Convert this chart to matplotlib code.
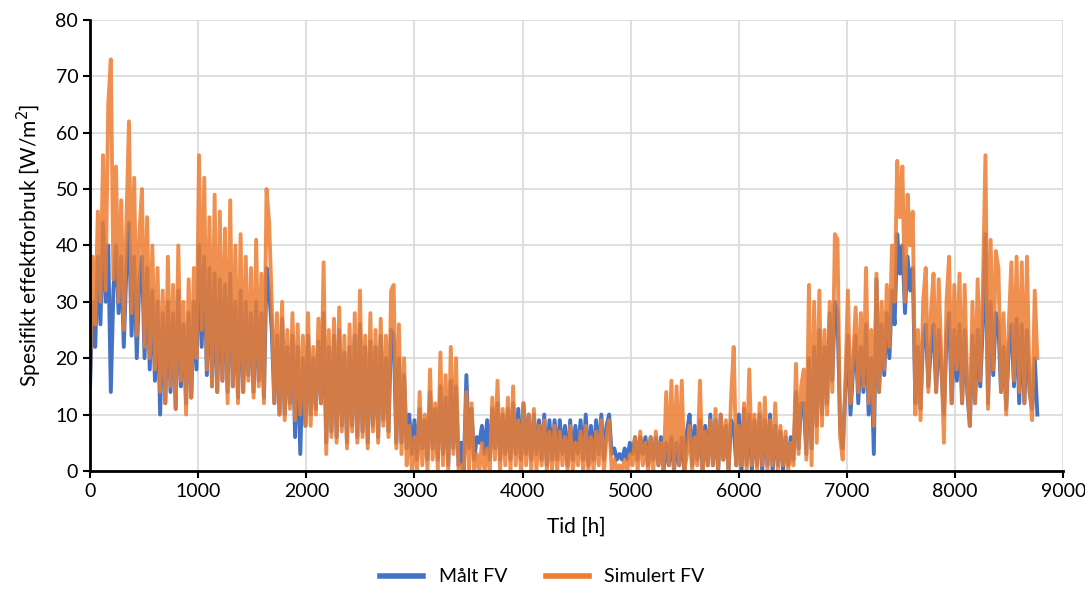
import numpy as np
import matplotlib.pyplot as plt

# values, one point per day (24 h), alternating peaks/troughs
simulert = [
    17, 38, 26, 46, 30, 56, 32, 65, 73, 34,
    54, 30, 48, 25, 44, 62, 28, 52, 24, 42,
    50, 22, 45, 20, 40, 18, 36, 14, 32, 12,
    38, 15, 33, 11, 40, 16, 30, 10, 34, 13,
    36, 20, 56, 25, 52, 18, 45, 15, 49, 14,
    46, 16, 43, 12, 48, 15, 40, 12, 42, 14,
    38, 16, 36, 13, 41, 15, 35, 12, 50, 44,
    30, 12, 28, 10, 30, 9, 25, 11, 28, 9,
    26, 10, 24, 8, 28, 8, 22, 10, 27, 12,
    37, 3, 25, 6, 27, 5, 29, 7, 24, 4,
    26, 7, 28, 5, 32, 6, 24, 4, 28, 7,
    25, 5, 27, 8, 24, 6, 32, 33, 4, 26,
    3, 20, 1, 8, 0, 6, 0, 14, 1, 10,
    0, 18, 2, 12, 0, 21, 1, 17, 0, 22,
    3, 20, 0, 1, 0, 14, 0, 12, 0, 3,
    0, 5, 0, 4, 0, 13, 2, 16, 0, 11,
    1, 13, 0, 15, 1, 9, 0, 12, 1, 10,
    0, 11, 0, 8, 1, 9, 0, 7, 0, 8,
    0, 7, 1, 6, 0, 8, 0, 5, 1, 7,
    0, 8, 0, 6, 0, 7, 1, 9, 0, 6,
    9, 0, 2, 0, 1, 0, 2, 0, 3, 1,
    6, 0, 7, 1, 5, 0, 6, 0, 7, 1,
    5, 0, 14, 1, 16, 0, 15, 1, 16, 0,
    3, 8, 0, 6, 1, 16, 0, 7, 1, 9,
    1, 11, 0, 10, 2, 9, 0, 13, 22, 1,
    8, 1, 12, 0, 18, 1, 10, 0, 12, 1,
    13, 0, 9, 1, 12, 0, 8, 1, 7, 0,
    5, 1, 19, 3, 15, 18, 2, 33, 1, 30,
    5, 32, 8, 25, 10, 30, 14, 42, 41, 6,
    2, 15, 32, 12, 20, 29, 14, 28, 15, 36,
    12, 25, 8, 35, 14, 30, 18, 33, 22, 40,
    30, 55, 45, 54, 30, 49, 40, 46, 10, 25,
    9, 30, 36, 14, 28, 35, 14, 34, 20, 5,
    30, 38, 12, 33, 18, 35, 12, 33, 15, 8,
    30, 12, 34, 16, 32, 56, 11, 41, 18, 39,
    36, 14, 28, 10, 26, 37, 16, 38, 14, 37,
    12, 38, 15, 9, 32, 20,
]
maalt = [
    15, 30, 22, 38, 26, 44, 30, 40, 14, 32,
    40, 28, 38, 22, 36, 44, 24, 38, 20, 34,
    38, 20, 36, 18, 32, 16, 30, 10, 28, 12,
    30, 14, 28, 11, 32, 15, 26, 12, 28, 13,
    30, 18, 40, 22, 38, 17, 36, 15, 35, 14,
    34, 16, 33, 14, 35, 15, 30, 13, 32, 14,
    30, 17, 28, 14, 30, 16, 28, 13, 36, 32,
    25, 12, 24, 10, 27, 10, 22, 12, 24, 6,
    22, 3, 20, 8, 24, 10, 20, 11, 23, 12,
    28, 5, 22, 7, 24, 6, 25, 8, 21, 5,
    22, 8, 24, 6, 26, 7, 22, 5, 23, 8,
    22, 6, 24, 9, 20, 7, 25, 24, 5, 20,
    5, 17, 4, 10, 3, 9, 2, 11, 4, 9,
    2, 14, 4, 11, 2, 15, 3, 13, 1, 16,
    4, 15, 1, 5, 0, 17, 4, 11, 2, 6,
    5, 8, 3, 9, 2, 11, 4, 12, 2, 10,
    3, 11, 2, 12, 3, 11, 2, 12, 3, 10,
    2, 10, 3, 9, 2, 10, 1, 9, 2, 9,
    2, 9, 3, 8, 1, 9, 2, 8, 3, 9,
    2, 10, 1, 8, 2, 9, 3, 10, 2, 8,
    10, 3, 4, 2, 3, 2, 4, 2, 5, 3,
    6, 2, 6, 3, 6, 1, 6, 2, 6, 1,
    6, 0, 5, 1, 6, 0, 5, 1, 6, 0,
    7, 10, 1, 8, 2, 9, 0, 8, 1, 10,
    1, 9, 0, 10, 2, 8, 0, 9, 8, 1,
    10, 0, 11, 1, 10, 0, 9, 1, 10, 0,
    9, 1, 10, 0, 8, 1, 7, 0, 6, 1,
    6, 2, 14, 4, 12, 12, 3, 20, 4, 22,
    8, 25, 10, 22, 12, 28, 16, 30, 28, 8,
    4, 14, 24, 10, 18, 24, 12, 22, 14, 26,
    10, 20, 3, 34, 14, 26, 17, 28, 20, 32,
    26, 42, 35, 40, 28, 38, 32, 36, 12, 22,
    11, 24, 26, 15, 22, 26, 14, 25, 18, 10,
    24, 28, 12, 25, 16, 26, 12, 25, 14, 8,
    24, 12, 25, 15, 26, 42, 12, 30, 17, 28,
    26, 14, 22, 11, 22, 26, 15, 27, 12, 26,
    12, 25, 14, 11, 20, 10,
]
timer = np.linspace(0, 8760, len(simulert))

plt.rcParams['font.family'] = ['Lato', 'DejaVu Sans']

fig = plt.figure(figsize=(10.85, 6.03), dpi=100)
ax = fig.add_axes([0.083, 0.219, 0.897, 0.748])

ax.plot(timer, maalt, color='#4472C4', lw=2.8, label='Målt FV', solid_joinstyle='round')
ax.plot(timer, simulert, color='#ED7D31', lw=2.8, alpha=0.85, label='Simulert FV',
        solid_joinstyle='round')

ax.set_xlim(0, 9000)
ax.set_ylim(0, 80)
ax.set_xticks(range(0, 9001, 1000))
ax.set_yticks(range(0, 81, 10))
ax.grid(True, color='#D9D9D9', lw=1.2)
ax.set_axisbelow(True)
for s in ['top', 'right']:
    ax.spines[s].set_visible(False)
for s in ['left', 'bottom']:
    ax.spines[s].set_linewidth(2)
ax.tick_params(axis='both', labelsize=14, width=1.5, length=5, direction='out')
ax.set_xlabel('Tid [h]', fontsize=15, labelpad=12)
ax.set_ylabel('Spesifikt effektforbruk [W/m$^2$]', fontsize=15, labelpad=8)

fig.legend(loc='lower center', bbox_to_anchor=(0.5, 0.0), ncol=2, frameon=False,
           fontsize=14, handlelength=2.2)
for line in fig.legends[0].get_lines():
    line.set_linewidth(4)
    line.set_alpha(1)

fig.savefig('out.png', dpi=100)
